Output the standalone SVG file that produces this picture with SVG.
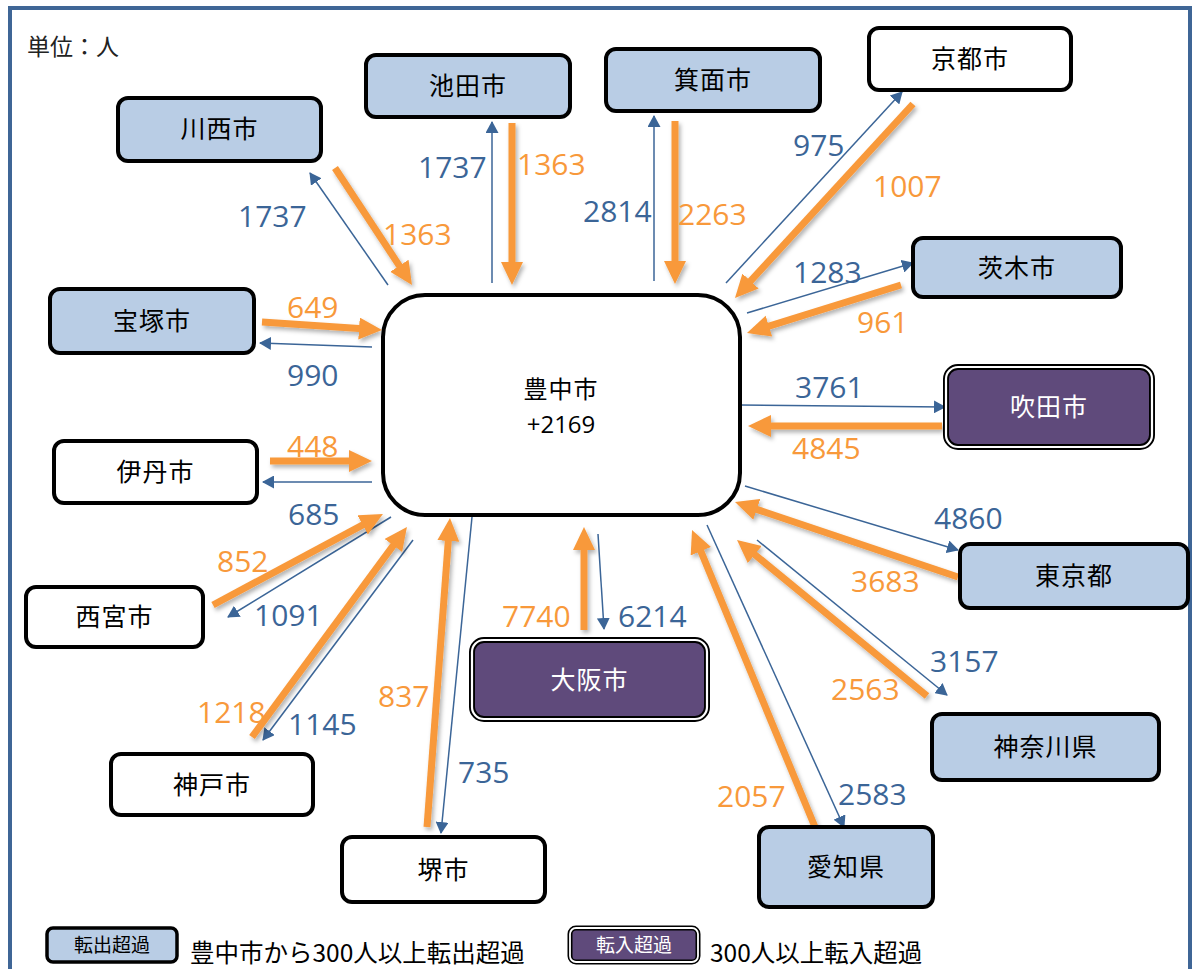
<svg xmlns="http://www.w3.org/2000/svg" width="1199" height="969" viewBox="0 0 1199 969">
<style>
.frame{fill:#fff;stroke:#3f6696;stroke-width:4}
.nb{fill:#b9cde5;stroke:#000;stroke-width:4}
.nw{fill:#fff;stroke:#000;stroke-width:4}
.np{fill:#5f4a7b;stroke:#000;stroke-width:6}
.npi{fill:none;stroke:#fff;stroke-width:2.2}
.lbl{font-family:"Noto Sans CJK JP","Noto Sans",sans-serif;font-size:25px;text-anchor:middle;fill:#000;letter-spacing:1px}
.lblw{fill:#fff}
.num{font-family:"Open Sans","Liberation Sans",sans-serif;font-size:30px}
.nb-t{fill:#3b6597}
.no-t{fill:#f8993b}
.ob{stroke:#3b6597;stroke-width:1.5;fill:none;marker-end:url(#mb)}
.oo{stroke:#f8993b;stroke-width:7;fill:none;marker-end:url(#mo)}
.leg{font-family:"Noto Sans CJK JP",sans-serif;font-size:24.5px;fill:#000}
</style>
<defs>
<marker id="mb" markerUnits="userSpaceOnUse" markerWidth="13" markerHeight="13" refX="11" refY="6.5" orient="auto">
<path d="M0,0 L12,6.5 L0,13 Z" fill="#3b6597"/>
</marker>
<marker id="mo" markerUnits="userSpaceOnUse" markerWidth="24" markerHeight="23" refX="15" refY="11" orient="auto">
<path d="M0,0 L23,11 L0,22 Z" fill="#f8993b"/>
</marker>
<filter id="sh" filterUnits="userSpaceOnUse" x="0" y="0" width="1199" height="969">
<feDropShadow dx="2" dy="3" stdDeviation="2" flood-color="#000" flood-opacity="0.3"/>
</filter>
</defs>
<rect class="frame" x="10" y="8" width="1180" height="980"/>
<text x="27" y="55" style="font-family:'Liberation Serif','Noto Sans CJK JP',serif;font-size:23px;fill:#222">単位：人</text>

<g id="connectors">
<g id="blue-arrows">
<line class="ob" x1="388" y1="285" x2="310" y2="173"/>
<line class="ob" x1="492" y1="283" x2="492" y2="122"/>
<line class="ob" x1="654" y1="281" x2="654" y2="116"/>
<line class="ob" x1="726" y1="283" x2="902" y2="92"/>
<line class="ob" x1="747" y1="313" x2="913" y2="263"/>
<line class="ob" x1="740" y1="405" x2="945" y2="407"/>
<line class="ob" x1="745" y1="486" x2="958" y2="550"/>
<line class="ob" x1="757" y1="540" x2="947" y2="695"/>
<line class="ob" x1="707" y1="525" x2="844" y2="827"/>
<line class="ob" x1="598" y1="534" x2="604" y2="629"/>
<line class="ob" x1="472" y1="517" x2="441" y2="833"/>
<line class="ob" x1="413" y1="540" x2="263" y2="740"/>
<line class="ob" x1="391" y1="517" x2="228" y2="617"/>
<line class="ob" x1="372" y1="482" x2="263" y2="482"/>
<line class="ob" x1="372" y1="347" x2="260" y2="343"/>
</g>
<g id="orange-arrows" filter="url(#sh)">
<line class="oo" x1="335" y1="168" x2="407.6" y2="278.3"/>
<line class="oo" x1="512" y1="123" x2="512" y2="277"/>
<line class="oo" x1="675" y1="121" x2="675" y2="276"/>
<line class="oo" x1="913" y1="104" x2="740.4" y2="292.1"/>
<line class="oo" x1="901" y1="285" x2="754.6" y2="330.6"/>
<line class="oo" x1="942" y1="426" x2="756" y2="426"/>
<line class="oo" x1="958" y1="577" x2="742.6" y2="504.6"/>
<line class="oo" x1="927" y1="696" x2="743.2" y2="545.1"/>
<line class="oo" x1="815" y1="827" x2="695.1" y2="537.4"/>
<line class="oo" x1="584" y1="630" x2="584" y2="535"/>
<line class="oo" x1="427" y1="827" x2="449.4" y2="526"/>
<line class="oo" x1="252" y1="737" x2="402.2" y2="533.4"/>
<line class="oo" x1="213" y1="605" x2="375.9" y2="517.8"/>
<line class="oo" x1="270" y1="461" x2="364" y2="461"/>
<line class="oo" x1="262" y1="322" x2="374" y2="329.5"/>
</g>
<g id="flow-labels" class="num">
<text class="nb-t" x="238" y="227">1737</text>
<text class="no-t" x="383" y="245">1363</text>
<text class="nb-t" x="418" y="178">1737</text>
<text class="no-t" x="517" y="175">1363</text>
<text class="nb-t" x="583" y="222">2814</text>
<text class="no-t" x="678" y="225">2263</text>
<text class="nb-t" x="793" y="156">975</text>
<text class="no-t" x="873" y="197">1007</text>
<text class="nb-t" x="793" y="283">1283</text>
<text class="no-t" x="857" y="333">961</text>
<text class="nb-t" x="795" y="398">3761</text>
<text class="no-t" x="792" y="459">4845</text>
<text class="nb-t" x="934" y="529">4860</text>
<text class="no-t" x="851" y="592">3683</text>
<text class="nb-t" x="930" y="672">3157</text>
<text class="no-t" x="831" y="700">2563</text>
<text class="no-t" x="717" y="807">2057</text>
<text class="nb-t" x="838" y="805">2583</text>
<text class="no-t" x="502" y="627">7740</text>
<text class="nb-t" x="618" y="627">6214</text>
<text class="no-t" x="378" y="707">837</text>
<text class="nb-t" x="458" y="783">735</text>
<text class="no-t" x="197" y="723">1218</text>
<text class="nb-t" x="288" y="735">1145</text>
<text class="no-t" x="217" y="572">852</text>
<text class="nb-t" x="254" y="626">1091</text>
<text class="nb-t" x="288" y="525">685</text>
<text class="no-t" x="287" y="318">649</text>
<text class="nb-t" x="287" y="386">990</text>
<text class="no-t" x="287" y="457">448</text>
</g>
</g>

<g id="toyonaka">
<rect class="nw" x="383" y="295" width="357" height="220" rx="42"/>
<text class="lbl" x="561" y="398" style="font-size:24px">豊中市</text>
<text class="lbl" x="561" y="433" style="font-size:24px;letter-spacing:0;font-family:'Open Sans','Liberation Sans',sans-serif">+2169</text>
</g>
<g id="kawanishi"><rect class="nb" x="118" y="98" width="203" height="63" rx="10"/><text class="lbl" x="219.5" y="138">川西市</text></g>
<g id="ikeda"><rect class="nb" x="366" y="55" width="204" height="62" rx="10"/><text class="lbl" x="468" y="95">池田市</text></g>
<g id="minoh"><rect class="nb" x="606" y="49" width="214" height="62" rx="10"/><text class="lbl" x="713" y="89">箕面市</text></g>
<g id="kyoto"><rect class="nw" x="869" y="28" width="202" height="62" rx="10"/><text class="lbl" x="970" y="68">京都市</text></g>
<g id="ibaraki"><rect class="nb" x="913" y="238" width="208" height="59" rx="10"/><text class="lbl" x="1017" y="276.5">茨木市</text></g>
<g id="suita"><rect class="np" x="946" y="367" width="206" height="80" rx="12"/><rect class="npi" x="946" y="367" width="206" height="80" rx="12"/><text class="lbl lblw" x="1049" y="416">吹田市</text></g>
<g id="tokyo"><rect class="nb" x="960" y="544" width="228" height="64" rx="10"/><text class="lbl" x="1074" y="585">東京都</text></g>
<g id="kanagawa"><rect class="nb" x="932" y="714" width="227" height="66" rx="10"/><text class="lbl" x="1045.5" y="756">神奈川県</text></g>
<g id="aichi"><rect class="nb" x="759" y="827" width="174" height="80" rx="10"/><text class="lbl" x="846" y="876">愛知県</text></g>
<g id="osaka"><rect class="np" x="472" y="640" width="235" height="79" rx="12"/><rect class="npi" x="472" y="640" width="235" height="79" rx="12"/><text class="lbl lblw" x="589.5" y="688.5">大阪市</text></g>
<g id="sakai"><rect class="nw" x="342" y="837" width="203" height="65" rx="10"/><text class="lbl" x="443.5" y="878.5">堺市</text></g>
<g id="kobe"><rect class="nw" x="111" y="754" width="202" height="61" rx="10"/><text class="lbl" x="212" y="793.5">神戸市</text></g>
<g id="nishinomiya"><rect class="nw" x="26" y="587" width="177" height="60" rx="10"/><text class="lbl" x="114.5" y="626">西宮市</text></g>
<g id="itami"><rect class="nw" x="54" y="441" width="203" height="62" rx="10"/><text class="lbl" x="155.5" y="481">伊丹市</text></g>
<g id="takarazuka"><rect class="nb" x="50" y="289" width="204" height="64" rx="10"/><text class="lbl" x="152" y="330">宝塚市</text></g>

<g id="legend">
<g id="legend-out"><rect class="nb" x="47" y="928" width="130" height="34" rx="6" style="stroke-width:3.5"/><text class="lbl" x="112" y="952" style="font-size:19px;letter-spacing:0">転出超過</text></g>
<text class="leg" x="190" y="962">豊中市から300人以上転出超過</text>
<g id="legend-in"><rect class="np" x="570" y="928" width="128" height="34" rx="6" style="stroke-width:5"/><rect class="npi" x="570" y="928" width="128" height="34" rx="6" style="stroke-width:1.8"/><text class="lbl lblw" x="634" y="952" style="font-size:19px;letter-spacing:0">転入超過</text></g>
<text class="leg" x="710" y="962">300人以上転入超過</text>
</g>
</svg>
